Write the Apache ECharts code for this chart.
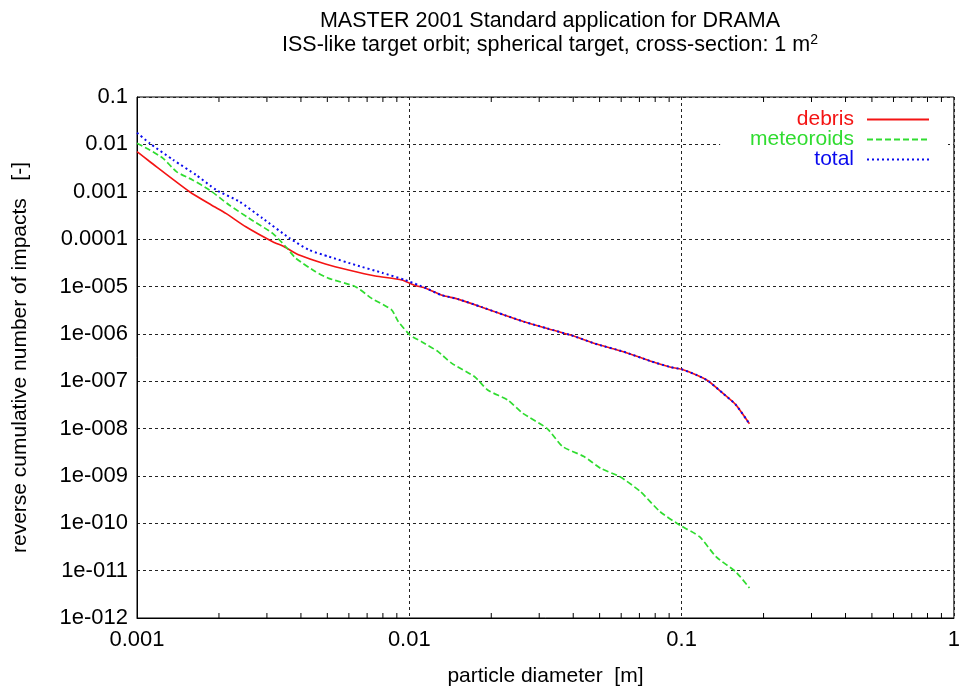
<!DOCTYPE html>
<html>
<head>
<meta charset="utf-8">
<script src="https://cdn.jsdelivr.net/npm/echarts@6/dist/echarts.min.js"></script>
<style>
  html, body { margin: 0; padding: 0; background: #fff; }
  #chart { width: 963px; height: 692px; }
</style>
</head>
<body>
<div id="chart"></div>
<script>
// Particle diameter [m] and reverse cumulative impacts per series
const debrisD = [0.001, 0.00111, 0.00156, 0.001875, 0.00212, 0.00251, 0.00315, 0.00347, 0.00394, 0.00492, 0.00598, 0.0075, 0.00938, 0.0105, 0.01156, 0.0131, 0.0151, 0.01837, 0.0223, 0.0264, 0.0321, 0.0391, 0.049, 0.0612, 0.0766, 0.0906, 0.1, 0.1135, 0.125, 0.142, 0.158, 0.1775];
const debrisN = [7.0e-3, 4.4e-3, 1.0e-3, 5.25e-4, 3.5e-4, 1.82e-4, 8.8e-5, 6.9e-5, 4.6e-5, 2.98e-5, 2.22e-5, 1.66e-5, 1.37e-5, 1.05e-5, 9.1e-6, 6.6e-6, 5.4e-6, 3.7e-6, 2.5e-6, 1.8e-6, 1.3e-6, 9.4e-7, 6.0e-7, 4.2e-7, 2.67e-7, 2.0e-7, 1.78e-7, 1.35e-7, 1.02e-7, 5.5e-8, 3.2e-8, 1.26e-8];

const meteoroidD = [0.001, 0.001114, 0.001247, 0.001396, 0.0016, 0.001845, 0.00218, 0.00258, 0.00315, 0.00352, 0.00383, 0.00453, 0.00506, 0.00634, 0.00728, 0.00861, 0.00912, 0.01007, 0.0111, 0.01276, 0.01429, 0.01738, 0.0194, 0.023, 0.0261, 0.0321, 0.0365, 0.0438, 0.0504, 0.0596, 0.0705, 0.0834, 0.0986, 0.1164, 0.134, 0.158, 0.1775];
const meteoroidN = [1.05e-2, 7.6e-3, 5.08e-3, 2.65e-3, 1.77e-3, 1.09e-3, 5.25e-4, 2.75e-4, 1.32e-4, 6.9e-5, 3.94e-5, 2.05e-5, 1.48e-5, 9.9e-6, 5.6e-6, 3.2e-6, 1.8e-6, 9.4e-7, 6.8e-7, 4.2e-7, 2.4e-7, 1.24e-7, 6.5e-8, 4.0e-8, 2.1e-8, 1.0e-8, 4.2e-9, 2.57e-9, 1.45e-9, 9.5e-10, 4.7e-10, 1.75e-10, 9.1e-11, 5.2e-11, 1.95e-11, 9.5e-12, 4.3e-12];

const totalD = [0.001, 0.001114, 0.001358, 0.00165, 0.001954, 0.002377, 0.00289, 0.00363, 0.00428, 0.00506, 0.00634, 0.00794, 0.00964, 0.0108, 0.01156, 0.0131, 0.0151, 0.01837, 0.0223, 0.0264, 0.0321, 0.0391, 0.049, 0.0612, 0.0766, 0.0906, 0.1, 0.1135, 0.125, 0.142, 0.158, 0.1775];
const totalN = [1.76e-2, 1.05e-2, 4.7e-3, 2.25e-3, 1.09e-3, 6.2e-4, 2.75e-4, 1.05e-4, 5.9e-5, 4.27e-5, 2.84e-5, 1.95e-5, 1.37e-5, 1.07e-5, 9.1e-6, 6.6e-6, 5.4e-6, 3.7e-6, 2.5e-6, 1.8e-6, 1.3e-6, 9.4e-7, 6.0e-7, 4.2e-7, 2.67e-7, 2.0e-7, 1.78e-7, 1.35e-7, 1.02e-7, 5.5e-8, 3.2e-8, 1.26e-8];

// Axis ranges and tick labels
const xMin = 0.001, xMax = 1;
const yMin = 1e-12, yMax = 0.1;
const xTickLabels = { '-3': '0.001', '-2': '0.01', '-1': '0.1', '0': '1' };
const yTickLabels = {
  '-1': '0.1', '-2': '0.01', '-3': '0.001', '-4': '0.0001',
  '-5': '1e-005', '-6': '1e-006', '-7': '1e-007', '-8': '1e-008',
  '-9': '1e-009', '-10': '1e-010', '-11': '1e-011', '-12': '1e-012'
};
const xMinorTicks = [0.002, 0.003, 0.004, 0.005, 0.006, 0.007, 0.008, 0.009,
  0.02, 0.03, 0.04, 0.05, 0.06, 0.07, 0.08, 0.09,
  0.2, 0.3, 0.4, 0.5, 0.6, 0.7, 0.8, 0.9];

const FONT = "'Liberation Sans', Arial, sans-serif";
const RED = '#f41414', GREEN = '#30dc30', BLUE = '#0a0aee';
const zip = (a, b) => a.map((v, i) => [v, b[i]]);
const expOf = v => String(Math.round(Math.log10(v)));

const chart = echarts.init(document.getElementById('chart'), null, { renderer: 'canvas' });

chart.setOption({
  animation: false,
  backgroundColor: '#fff',
  textStyle: { fontFamily: FONT },
  title: {
    text: 'MASTER 2001 Standard application for DRAMA\nISS-like target orbit; spherical target, cross-section: 1 m{sup|2}',
    left: 545,
    top: 4,
    textAlign: 'center',
    textStyle: {
      fontFamily: FONT, fontSize: 21.5, fontWeight: 'normal', color: '#000', lineHeight: 24,
      rich: { sup: { fontFamily: FONT, fontSize: 14, color: '#000', verticalAlign: 'top', lineHeight: 24, padding: [0, 0, 10, 0] } }
    }
  },
  legend: {
    orient: 'vertical',
    right: 15,
    top: 106,
    align: 'right',
    itemWidth: 62,
    itemHeight: 14,
    itemGap: -1,
    padding: [3, 18, 6, 30],
    backgroundColor: '#fff',
    itemStyle: { opacity: 0 },
    textStyle: { fontFamily: FONT, fontSize: 21, lineHeight: 18, padding: [0, 8, 0, 0] },
    data: [
      { name: 'debris', textStyle: { color: RED } },
      { name: 'meteoroids', textStyle: { color: GREEN } },
      { name: 'total', textStyle: { color: BLUE } }
    ]
  },
  grid: {
    left: 137, right: 5, top: 97, bottom: 74,
    show: true, borderColor: '#000', borderWidth: 1, backgroundColor: 'transparent'
  },
  xAxis: {
    type: 'log', logBase: 10, min: xMin, max: xMax, interval: 1,
    name: 'particle diameter  [m]',
    nameLocation: 'middle', nameGap: 48,
    nameTextStyle: { fontFamily: FONT, fontSize: 21, color: '#000' },
    axisLine: { show: true, lineStyle: { color: '#000', width: 1 } },
    axisTick: { show: false },
    axisLabel: {
      fontFamily: FONT, fontSize: 22, color: '#000', margin: 11,
      formatter: v => xTickLabels[expOf(v)] || ''
    },
    splitLine: { show: true, lineStyle: { color: '#222', width: 1, type: [3, 3] } }
  },
  yAxis: {
    type: 'log', logBase: 10, min: yMin, max: yMax, interval: 1,
    name: 'reverse cumulative number of impacts   [-]',
    nameLocation: 'middle', nameGap: 106, nameRotate: 90,
    nameTextStyle: { fontFamily: FONT, fontSize: 21, color: '#000' },
    axisLine: { show: true, lineStyle: { color: '#000', width: 1 } },
    axisTick: { show: false },
    axisLabel: {
      fontFamily: FONT, fontSize: 22, color: '#000', margin: 9,
      formatter: v => yTickLabels[expOf(v)] || ''
    },
    splitLine: { show: true, lineStyle: { color: '#222', width: 1, type: [3, 3] } }
  },
  series: [
    {
      name: 'debris', type: 'line', data: zip(debrisD, debrisN),
      showSymbol: false, symbol: 'none', smooth: 0.2,
      lineStyle: { color: RED, width: 1.6, type: 'solid' },
      itemStyle: { color: RED }
    },
    {
      name: 'meteoroids', type: 'line', data: zip(meteoroidD, meteoroidN),
      showSymbol: false, symbol: 'none', smooth: 0.2,
      lineStyle: { color: GREEN, width: 1.7, type: [6, 3] },
      itemStyle: { color: GREEN }
    },
    {
      name: 'total', type: 'line', data: zip(totalD, totalN),
      showSymbol: false, symbol: 'none', smooth: 0.2,
      lineStyle: { color: BLUE, width: 2, type: [2, 3] },
      itemStyle: { color: BLUE }
    },
    {
      // minor ticks at 2..9 of each decade, on the bottom and top borders
      name: 'minorTicks', type: 'custom', silent: true, clip: false,
      data: xMinorTicks.map(v => [v, yMin]),
      renderItem: (params, api) => {
        const b = api.coord([api.value(0), yMin]);
        const t = api.coord([api.value(0), yMax]);
        const st = { stroke: '#000', lineWidth: 1 };
        return {
          type: 'group',
          children: [
            { type: 'line', shape: { x1: b[0], y1: b[1], x2: b[0], y2: b[1] - 5 }, style: st },
            { type: 'line', shape: { x1: t[0], y1: t[1], x2: t[0], y2: t[1] + 5 }, style: st }
          ]
        };
      }
    }
  ]
});
</script>
</body>
</html>
